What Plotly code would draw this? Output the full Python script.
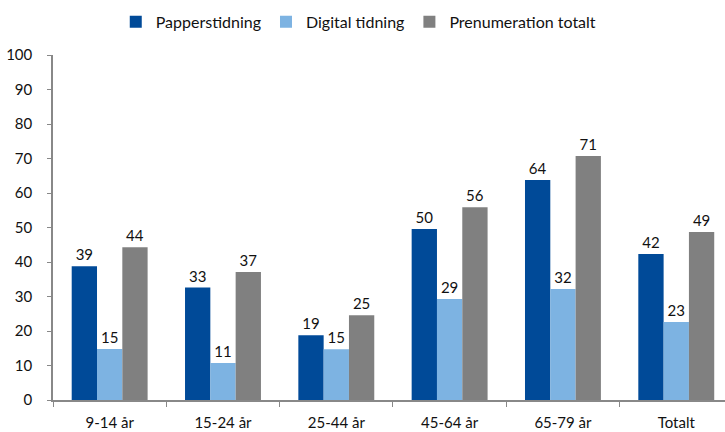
import plotly.graph_objects as go

categories = ["9-14 år", "15-24 år", "25-44 år", "45-64 år", "65-79 år", "Totalt"]
papper = [38.8, 32.6, 18.8, 49.6, 63.8, 42.3]
digital = [14.8, 10.7, 14.7, 29.3, 32.2, 22.6]
prenum = [44.3, 37.1, 24.6, 55.9, 70.7, 48.7]
series_names = ["Papperstidning", "Digital tidning", "Prenumeration totalt"]
colors = ["#004A98", "#7DB3E2", "#808080"]

fig = go.Figure()
for name, vals, c in zip(series_names, [papper, digital, prenum], colors):
    fig.add_trace(go.Bar(
        x=categories, y=vals, name=name, marker_color=c, marker_line_width=0,
        text=[f"{round(v)}" for v in vals], textposition="outside",
        textfont=dict(size=15, color="#111"), cliponaxis=False,
    ))

fig.update_layout(
    width=725, height=432,
    margin=dict(l=53, r=0, t=55, b=32, autoexpand=False),
    paper_bgcolor="white", plot_bgcolor="white",
    font=dict(family="Lato", size=15, color="#111"),
    barmode="group", bargap=0.33, bargroupgap=0,
    legend=dict(orientation="h", x=0.455, xanchor="center", y=1.096, yanchor="middle",
                font=dict(size=16, color="#111"), itemwidth=30, tracegroupgap=0),
    showlegend=True,
)
fig.update_yaxes(range=[0, 100], dtick=10, showgrid=False, showline=True,
                 linecolor="#888", linewidth=1.5, ticks="outside", ticklen=4,
                 tickcolor="#888", zeroline=False, ticklabelstandoff=12)
fig.update_xaxes(range=[-0.5, 5.43], showgrid=False, showline=True, linecolor="#888",
                 linewidth=1.5, ticks="outside", ticklen=5, tickcolor="#888",
                 tickson="boundaries", ticklabelstandoff=8)
fig.write_html("out.html")
